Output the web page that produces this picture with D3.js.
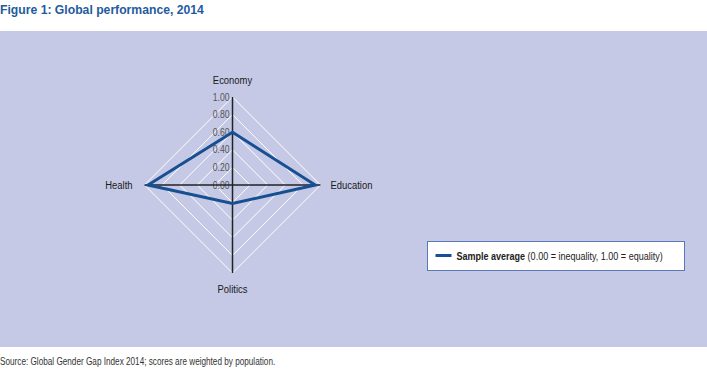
<!DOCTYPE html>
<html lang="en">
<head>
<meta charset="UTF-8">
<title>Figure 1: Global performance, 2014</title>
<script src="https://cdn.jsdelivr.net/npm/d3@7"></script>
<style>
  body { margin: 0; background: #fff; }
  text { font-family: "Liberation Sans", Arial, sans-serif; }
</style>
</head>
<body>
<script type="text/javascript">

var categories = ["Economy", "Education", "Politics", "Health"];
var sampleAverage = [0.60, 0.94, 0.21, 0.96];
var ticks = [0, 0.2, 0.4, 0.6, 0.8, 1.0];
var tickLabels = ["0.00", "0.20", "0.40", "0.60", "0.80", "1.00"];

var width = 707, height = 378;
var cx = 232.5, cy = 185, radius = 88;
var squeeze = 0.82; // narrow font look

// place text at x,y and squeeze it horizontally
function pos(x, y) {
  return 'translate(' + x + ',' + y + ') scale(' + squeeze + ',1)';
}

var svg = d3.select('body').append('svg')
  .attr('width', width)
  .attr('height', height);

// title
svg.append('text')
  .attr('x', 0).attr('y', 14)
  .style('font-weight', 'bold')
  .style('font-size', '12.2px')
  .style('fill', '#1f5b9e')
  .text('Figure 1: Global performance, 2014');

// panel
svg.append('rect')
  .attr('x', 0).attr('y', 31)
  .attr('width', width).attr('height', 316)
  .style('fill', '#c5c9e5');

var r = d3.scaleLinear().domain([0, 1]).range([0, radius]);
var angle = function (i) { return i * Math.PI / 2 - Math.PI / 2; };

var g = svg.append('g')
  .attr('transform', 'translate(' + cx + ',' + cy + ')');

// grid diamonds
g.selectAll('.grid')
  .data(ticks.slice(1))
  .enter().append('polygon')
  .attr('class', 'grid')
  .attr('points', function (t) {
    return categories.map(function (c, i) {
      return [r(t) * Math.cos(angle(i)), r(t) * Math.sin(angle(i))].join(',');
    }).join(' ');
  })
  .style('fill', 'none')
  .style('stroke', '#fff')
  .style('stroke-width', 1);

// tick labels
g.selectAll('.tick')
  .data(ticks)
  .enter().append('text')
  .attr('class', 'tick')
  .attr('transform', function (t) { return pos(-3, -r(t) + 3.5); })
  .attr('text-anchor', 'end')
  .style('font-size', '10.5px')
  .style('fill', '#555')
  .text(function (t, i) { return tickLabels[i]; });

// axes
g.selectAll('.axis')
  .data(categories)
  .enter().append('line')
  .attr('class', 'axis')
  .attr('x1', 0).attr('y1', 0)
  .attr('x2', function (c, i) { return r(1) * Math.cos(angle(i)); })
  .attr('y2', function (c, i) { return r(1) * Math.sin(angle(i)); })
  .style('stroke', '#222')
  .style('stroke-width', 1.5);

// axis labels
var labelPos = [
  { dx: 0, dy: -13, anchor: 'middle' },
  { dx: 10, dy: 4, anchor: 'start' },
  { dx: 0, dy: 20, anchor: 'middle' },
  { dx: -12, dy: 4, anchor: 'end' }
];
g.selectAll('.label')
  .data(categories)
  .enter().append('text')
  .attr('class', 'label')
  .attr('transform', function (c, i) {
    return pos(r(1) * Math.cos(angle(i)) + labelPos[i].dx,
               r(1) * Math.sin(angle(i)) + labelPos[i].dy);
  })
  .attr('text-anchor', function (c, i) { return labelPos[i].anchor; })
  .style('font-size', '11.5px')
  .style('fill', '#1a1a1a')
  .text(function (c) { return c; });

// data polygon
var line = d3.lineRadial()
  .angle(function (d, i) { return i * Math.PI / 2; })
  .radius(function (d) { return r(d); })
  .curve(d3.curveLinearClosed);

g.append('path')
  .datum(sampleAverage)
  .attr('d', line)
  .style('fill', 'none')
  .style('stroke', '#174f93')
  .style('stroke-width', 3)
  .style('stroke-linejoin', 'miter');

// legend
var lg = svg.append('g').attr('transform', 'translate(427.5,241.5)');
lg.append('rect')
  .attr('width', 257).attr('height', 29)
  .style('fill', '#fff')
  .style('stroke', '#5a78b8')
  .style('stroke-width', 1);
lg.append('line')
  .attr('x1', 8).attr('x2', 24)
  .attr('y1', 14).attr('y2', 14)
  .style('stroke', '#174f93')
  .style('stroke-width', 3);
var lt = lg.append('text')
  .attr('transform', pos(29, 18))
  .style('font-size', '11px')
  .style('fill', '#222');
lt.append('tspan').style('font-weight', 'bold').text('Sample average ');
lt.append('tspan').text('(0.00 = inequality, 1.00 = equality)');

// source
svg.append('text')
  .attr('transform', pos(0, 365))
  .style('font-size', '10px')
  .style('fill', '#333')
  .text('Source: Global Gender Gap Index 2014; scores are weighted by population.');

</script>
</body>
</html>
